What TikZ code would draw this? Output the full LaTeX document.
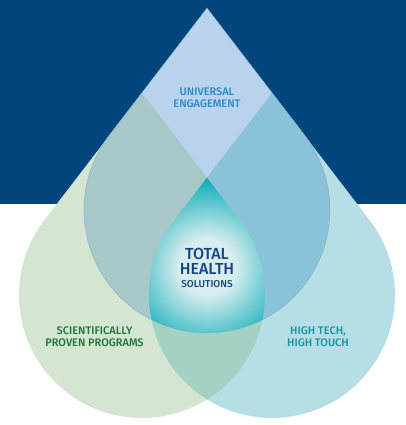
\documentclass[tikz,border=0pt]{standalone}
\usepackage{fontspec}
\setmainfont{Fira Sans}[BoldFont={Fira Sans Medium}]
\usetikzlibrary{positioning}
\definecolor{navy}{RGB}{0,70,125}
\definecolor{toponly}{RGB}{185,211,236}
\definecolor{leftonly}{RGB}{212,230,209}
\definecolor{rightonly}{RGB}{183,222,228}
\definecolor{topleft}{RGB}{166,201,199}
\definecolor{topright}{RGB}{138,194,215}
\definecolor{leftright}{RGB}{163,209,196}
\definecolor{dropteal}{RGB}{0,170,181}
\definecolor{glowin}{RGB}{216,237,239}
\definecolor{univblue}{RGB}{45,135,198}
\definecolor{totalblue}{RGB}{22,70,130}
\definecolor{sciegreen}{RGB}{30,115,55}
\definecolor{techteal}{RGB}{20,148,162}
\pgfdeclareradialshading{glow}{\pgfpoint{0bp}{0bp}}{color(0bp)=(glowin); color(7bp)=(glowin); color(23bp)=(dropteal); color(50bp)=(dropteal)}
% drop with its tip at (#1,#2)
\newcommand{\droppath}[2]{(#1,#2) -- ++(-97.6,-127.1) arc[start angle=142.5, end angle=397.5, radius=123pt] -- cycle}

\begin{document}
\begin{tikzpicture}[
    x=1pt, y=1pt,
    tag/.style={align=center, inner sep=0pt, font=\bfseries\fontsize{11}{11.5}\selectfont},
    rim/.style={draw=toponly!70!navy, line width=0.3pt}
]
\useasboundingbox (0,0) rectangle (406,425);
\fill[navy] (0,221) rectangle (406,425);

% the three drops
\fill[leftonly] \droppath{142}{332};
\fill[rightonly] \droppath{272}{332};
\fill[toponly] \droppath{207}{417};
\begin{scope}
  \clip \droppath{207}{417};
  \fill[topleft] \droppath{142}{332};
  \fill[topright] \droppath{272}{332};
\end{scope}
\begin{scope}
  \clip \droppath{142}{332};
  \fill[leftright] \droppath{272}{332};
\end{scope}
% centre, where all three meet
\begin{scope}
  \clip \droppath{207}{417};
  \clip \droppath{142}{332};
  \clip \droppath{272}{332};
  \shade[shading=glow] (107,58) rectangle (307,258);
\end{scope}
\draw[rim] \droppath{207}{417};

\node[tag, text=univblue] (universal) at (207,327.5) {UNIVERSAL\\ENGAGEMENT};
\node[tag, text=totalblue, font=\bfseries\fontsize{16}{14.5}\selectfont] (total) at (207,157) {TOTAL\\HEALTH\\[-1pt]{\fontsize{10}{10}\selectfont SOLUTIONS}};
\node[tag, text=sciegreen] (science) at (94.5,88.5) {SCIENTIFICALLY\\PROVEN PROGRAMS};
\node[tag, text=techteal] (hightech) at (318,88.5) {HIGH TECH,\\HIGH TOUCH};

\end{tikzpicture}
\end{document}
